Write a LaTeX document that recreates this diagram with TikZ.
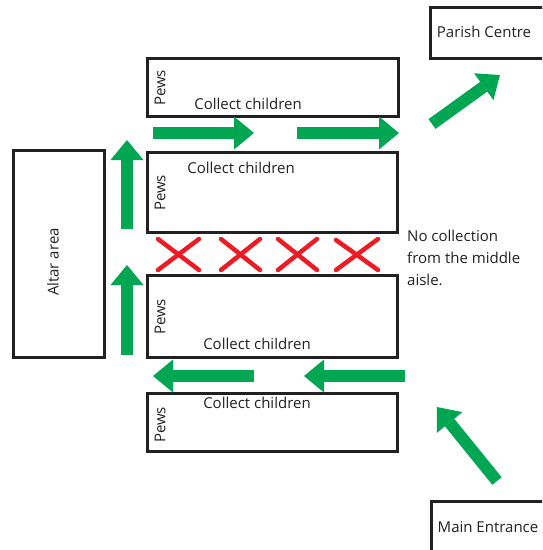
\documentclass[tikz,border=0pt]{standalone}
\usepackage{fontspec}
\setmainfont{Open Sans}
\usetikzlibrary{arrows.meta}
\definecolor{ink}{rgb}{0.13,0.13,0.13}
\definecolor{walk}{rgb}{0.0,0.65,0.32}
\definecolor{nogo}{rgb}{0.93,0.11,0.14}
\tikzset{%
  box/.style={draw=ink,line width=3pt,inner sep=0pt,minimum width=#1},
  box/.default=250pt,
  txt/.style={text=ink,inner sep=0pt,font=\fontsize{15}{22}\selectfont},
  flow/.style={walk,line width=12pt,-{Triangle[width=33pt,length=20pt,line width=0pt]}},
  cross/.style={nogo,line width=4.5pt,line cap=round}
}

\begin{document}
\begin{tikzpicture}[x=1pt,y=-1pt]
  \useasboundingbox (0,0) rectangle (542,550);
  \clip (0,0) rectangle (542,550);
  % pews and rooms
  \node[box=251pt,minimum height=58pt] (pew1) at (272.5,87) {};
  \node[box,minimum height=80pt] (pew2) at (272,192) {};
  \node[box,minimum height=82pt] (pew3) at (272,316) {};
  \node[box,minimum height=58pt] (pew4) at (272,422) {};
  \node[box=91pt,minimum height=207pt] (altar) at (58.5,253.5) {};
  \node[box=130pt,minimum height=51pt] (parish) at (495,32.5) {};
  \node[box=130pt,minimum height=70pt] (entrance) at (496,536) {};
  %%%
  \node[txt] (c1) at (248,104) {Collect children};
  \node[txt] (c2) at (241,168) {Collect children};
  \node[txt] (c3) at (257,344) {Collect children};
  \node[txt] (c4) at (257,403) {Collect children};
  \node[txt,rotate=90] (p1) at (160,88) {Pews};
  \node[txt,rotate=90] (p2) at (160,193) {Pews};
  \node[txt,rotate=90] (p3) at (160,317) {Pews};
  \node[txt,rotate=90] (p4) at (160,425) {Pews};
  \node[txt,rotate=90] (a0) at (53,262) {Altar area};
  \node[txt] (t0) at (484,32) {Parish Centre};
  \node[txt] (t1) at (488,527) {Main Entrance};
  \node[txt,align=left,anchor=west] (note) at (407,258) {No collection\\from the middle\\aisle.};
  % route
  \coordinate (f0) at (497,481);
  \coordinate (f1) at (437,407);
  \coordinate (f2) at (405,376);
  \coordinate (f3) at (304,376);
  \coordinate (f4) at (254,376);
  \coordinate (f5) at (153,376);
  \coordinate (f6) at (127,355);
  \coordinate (f7) at (127,265);
  \coordinate (f8) at (127,229);
  \coordinate (f9) at (127,140);
  \coordinate (g0) at (153,133);
  \coordinate (g1) at (254,133);
  \coordinate (g2) at (297,133);
  \coordinate (g3) at (399,133);
  \coordinate (g4) at (432,124);
  \coordinate (g5) at (500,75);
  \draw[flow] (f0)--(f1);
  \draw[flow] (f2)--(f3);
  \draw[flow] (f4)--(f5);
  \draw[flow] (f6)--(f7);
  \draw[flow] (f8)--(f9);
  \draw[flow] (g0)--(g1);
  \draw[flow] (g2)--(g3);
  \draw[flow] (g4)--(g5);
  % middle aisle closed
  \draw[cross] (158,239)--(199,270);
  \draw[cross] (158,270)--(199,239);
  \draw[cross] (221,239)--(260,270);
  \draw[cross] (221,270)--(260,239);
  \draw[cross] (278,239)--(317,270);
  \draw[cross] (278,270)--(317,239);
  \draw[cross] (336,240)--(378,270);
  \draw[cross] (336,270)--(378,239);
\end{tikzpicture}
\end{document}
